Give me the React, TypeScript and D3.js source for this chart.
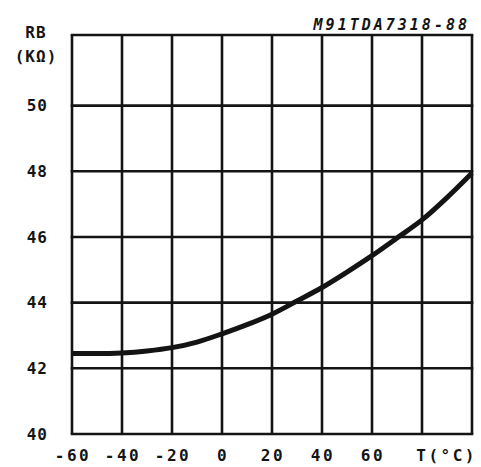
import { useEffect, useRef } from 'react';
import * as d3 from 'd3';

// Curve: RB (kOhm) vs temperature
const temps = [-60, -50, -40, -30, -20, -10, 0, 10, 20, 30, 40, 50, 60, 70, 80, 90, 100];
const rb = [42.45, 42.45, 42.47, 42.53, 42.63, 42.8, 43.05, 43.33, 43.65, 44.05, 44.46, 44.93, 45.43, 45.97, 46.52, 47.2, 47.95];

const xTicks = [-60, -40, -20, 0, 20, 40, 60, 80, 100];
const xLabels = ['-60', '-40', '-20', '0', '20', '40', '60'];
const yTicks = [40, 42, 44, 46, 48, 50];
const yGrid = [42, 44, 46, 48, 50];

const font = "'DejaVu Sans Mono', monospace";

function App() {
  const ref = useRef(null);

  useEffect(() => {
    const svg = d3.select(ref.current);
    svg.selectAll('*').remove();

    const x = d3.scaleLinear().domain([-60, 100]).range([72, 472]);
    const y = d3.scaleLinear().domain([40, 52.15]).range([434, 35]);
    const ink = '#141414';

    const g = svg.append('g');

    // vertical grid
    g.selectAll('line.v')
      .data(xTicks)
      .enter()
      .append('line')
      .attr('x1', d => x(d)).attr('x2', d => x(d))
      .attr('y1', y(52.15)).attr('y2', y(40))
      .attr('stroke', ink).attr('stroke-width', 2.6);

    // horizontal grid
    g.selectAll('line.h')
      .data([40, ...yGrid, 52.15])
      .enter()
      .append('line')
      .attr('x1', x(-60) - 1.3).attr('x2', x(100) + 1.3)
      .attr('y1', d => y(d)).attr('y2', d => y(d))
      .attr('stroke', ink).attr('stroke-width', 2.6);

    // curve
    const line = d3.line<number>()
      .x((_, i) => x(temps[i]))
      .y(d => y(d))
      .curve(d3.curveMonotoneX);
    g.append('path')
      .datum(rb)
      .attr('d', line)
      .attr('fill', 'none')
      .attr('stroke', ink)
      .attr('stroke-width', 5);

    // y tick labels
    g.selectAll('text.y')
      .data(yTicks)
      .enter()
      .append('text')
      .attr('x', 48)
      .attr('y', d => y(d))
      .attr('dy', '0.36em')
      .attr('text-anchor', 'end')
      .attr('font-family', font)
      .attr('font-weight', 'bold')
      .attr('font-size', 16)
      .attr('letter-spacing', 1)
      .attr('fill', ink)
      .text(d => String(d));

    // x tick labels
    g.selectAll('text.x')
      .data(xLabels)
      .enter()
      .append('text')
      .attr('x', d => x(+d) + 1)
      .attr('y', 461)
      .attr('text-anchor', 'middle')
      .attr('font-family', font)
      .attr('font-weight', 'bold')
      .attr('font-size', 16)
      .attr('letter-spacing', 2.5)
      .attr('fill', ink)
      .text(d => d);

    g.append('text')
      .attr('x', 477).attr('y', 461)
      .attr('text-anchor', 'end')
      .attr('font-family', font).attr('font-weight', 'bold')
      .attr('font-size', 16).attr('letter-spacing', 2.5)
      .attr('fill', ink)
      .text('T(°C)');

    // y axis title
    g.append('text')
      .attr('x', 36).attr('y', 38)
      .attr('text-anchor', 'middle')
      .attr('font-family', font).attr('font-weight', 'bold')
      .attr('font-size', 16).attr('letter-spacing', 1)
      .attr('fill', ink)
      .text('RB');
    g.append('text')
      .attr('x', 36).attr('y', 62)
      .attr('text-anchor', 'middle')
      .attr('font-family', font).attr('font-weight', 'bold')
      .attr('font-size', 16).attr('letter-spacing', 1)
      .attr('fill', ink)
      .text('(KΩ)');

    // figure code
    g.append('text')
      .attr('x', 470).attr('y', 30)
      .attr('text-anchor', 'end')
      .attr('font-family', font).attr('font-weight', 'bold')
      .attr('font-style', 'italic')
      .attr('font-size', 15).attr('letter-spacing', 3)
      .attr('fill', ink)
      .text('M91TDA7318-88');
  }, []);

  return (
    <svg ref={ref} width={481} height={467}
      style={{ position: 'absolute', left: 0, top: 0, background: '#fff' }} />
  );
}

export default App;
